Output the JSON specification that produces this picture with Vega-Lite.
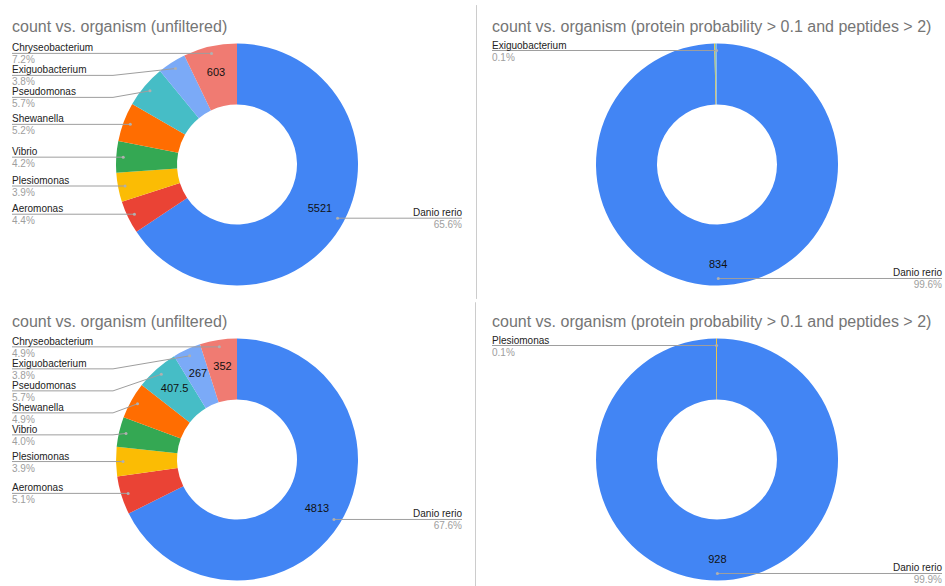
{
  "$schema": "https://vega.github.io/schema/vega-lite/v6.json",
  "padding": {"left": 0, "top": 4.5, "right": 0, "bottom": 0},
  "background": "white",
  "config": {
    "view": {"stroke": null},
    "font": "Liberation Sans",
    "title": {"font": "Liberation Sans", "fontSize": 16, "fontWeight": "normal", "color": "#757575", "anchor": "start", "frame": "group", "offset": 4.5, "baseline": "alphabetic"}
  },
  "data": {"values": [
    {"chart": "A", "organism": "Danio rerio", "count": 5521},
    {"chart": "A", "organism": "Aeromonas", "count": 372},
    {"chart": "A", "organism": "Plesiomonas", "count": 328},
    {"chart": "A", "organism": "Vibrio", "count": 353},
    {"chart": "A", "organism": "Shewanella", "count": 438},
    {"chart": "A", "organism": "Pseudomonas", "count": 480},
    {"chart": "A", "organism": "Exiguobacterium", "count": 320},
    {"chart": "A", "organism": "Chryseobacterium", "count": 603},
    {"chart": "B", "organism": "Danio rerio", "count": 834},
    {"chart": "B", "organism": "Plesiomonas", "count": 1},
    {"chart": "B", "organism": "Pseudomonas", "count": 1},
    {"chart": "B", "organism": "Exiguobacterium", "count": 1},
    {"chart": "C", "organism": "Danio rerio", "count": 4813},
    {"chart": "C", "organism": "Aeromonas", "count": 365},
    {"chart": "C", "organism": "Plesiomonas", "count": 278},
    {"chart": "C", "organism": "Vibrio", "count": 285},
    {"chart": "C", "organism": "Shewanella", "count": 349},
    {"chart": "C", "organism": "Pseudomonas", "count": 407.5},
    {"chart": "C", "organism": "Exiguobacterium", "count": 267},
    {"chart": "C", "organism": "Chryseobacterium", "count": 352},
    {"chart": "D", "organism": "Danio rerio", "count": 928},
    {"chart": "D", "organism": "Plesiomonas", "count": 1}
  ]},
  "columns": 2,
  "bounds": "flush",
  "spacing": {"row": 45, "column": 15},
  "concat": [
    {
      "width": 474, "height": 250,
      "title": {"text": "count vs. organism (unfiltered)", "dx": 12},
      "transform": [
        {"filter": "datum.chart == 'A'"},
        {"window": [{"op": "row_number", "as": "idx"}]},
        {"joinaggregate": [{"op": "sum", "field": "count", "as": "total"}]},
        {"window": [{"op": "sum", "field": "count", "as": "cum"}], "sort": [{"field": "idx"}], "frame": [null, 0]},
        {"calculate": "2*PI*(datum.cum - datum.count/2)/datum.total", "as": "mid"},
        {"calculate": "datum.count/datum.total", "as": "pct"}
      ],
      "layer": [
        {"mark": {"type": "arc", "radius": 121, "innerRadius": 60},
         "encoding": {
           "theta": {"field": "count", "type": "quantitative", "stack": true},
           "order": {"field": "idx", "type": "quantitative"},
           "color": {"field": "organism", "type": "nominal", "legend": null,
             "scale": {"domain": ["Danio rerio", "Aeromonas", "Plesiomonas", "Vibrio", "Shewanella", "Pseudomonas", "Exiguobacterium", "Chryseobacterium"],
                       "range": ["#4285F4", "#EA4335", "#FBBC04", "#34A853", "#FF6D01", "#46BDC6", "#7BAAF7", "#F07B72"]}}
         }},
        {"mark": {"type": "text", "radius": 94, "fontSize": 11, "color": "#111111"},
         "encoding": {
           "theta": {"field": "count", "type": "quantitative", "stack": true},
           "order": {"field": "idx", "type": "quantitative"},
           "detail": {"field": "organism", "type": "nominal"},
           "text": {"condition": {"test": "indexof(['Danio rerio','Chryseobacterium'], datum.organism) >= 0", "field": "count", "type": "nominal"}, "value": ""}
         }},
        {"transform": [
           {"calculate": "datum.mid > PI", "as": "left"},
           {"calculate": "114*sin(datum.mid)", "as": "px"},
           {"calculate": "114*cos(datum.mid)", "as": "py"},
           {"calculate": "datum.left ? 2*PI - datum.mid : datum.mid", "as": "ord"},
           {"window": [{"op": "row_number", "as": "k"}], "groupby": ["left"], "sort": [{"field": "ord"}]},
           {"calculate": "datum.py + 22*datum.k", "as": "e"},
           {"window": [{"op": "min", "field": "e", "as": "m"}], "groupby": ["left"], "sort": [{"field": "ord"}], "frame": [null, 0]},
           {"calculate": "datum.m - 22*datum.k", "as": "ly"},
           {"calculate": "datum.left ? -225 : 225", "as": "lx"},
           {"calculate": "datum.left ? -124 : 124", "as": "bx"}
         ],
         "layer": [
           {"mark": {"type": "rule", "color": "#9e9e9e", "strokeWidth": 1},
            "encoding": {
              "x": {"field": "px", "type": "quantitative", "scale": {"domain": [-237, 237], "nice": false, "zero": false}, "axis": null},
              "y": {"field": "py", "type": "quantitative", "scale": {"domain": [-125, 125], "nice": false, "zero": false}, "axis": null},
              "x2": {"field": "bx"}, "y2": {"field": "ly"}}},
           {"mark": {"type": "rule", "color": "#9e9e9e", "strokeWidth": 1},
            "encoding": {
              "x": {"field": "bx", "type": "quantitative", "scale": {"domain": [-237, 237], "nice": false, "zero": false}, "axis": null},
              "x2": {"field": "lx"},
              "y": {"field": "ly", "type": "quantitative", "scale": {"domain": [-125, 125], "nice": false, "zero": false}, "axis": null}}},
           {"mark": {"type": "point", "filled": true, "size": 9, "color": "#b0b0b0", "opacity": 1},
            "encoding": {
              "x": {"field": "px", "type": "quantitative", "scale": {"domain": [-237, 237], "nice": false, "zero": false}, "axis": null},
              "y": {"field": "py", "type": "quantitative", "scale": {"domain": [-125, 125], "nice": false, "zero": false}, "axis": null}}},
           {"transform": [{"filter": "datum.left"}],
            "mark": {"type": "text", "align": "left", "baseline": "alphabetic", "dy": -2, "fontSize": 10, "color": "#222222"},
            "encoding": {
              "x": {"field": "lx", "type": "quantitative", "scale": {"domain": [-237, 237], "nice": false, "zero": false}, "axis": null},
              "y": {"field": "ly", "type": "quantitative", "scale": {"domain": [-125, 125], "nice": false, "zero": false}, "axis": null},
              "text": {"field": "organism", "type": "nominal"}}},
           {"transform": [{"filter": "datum.left"}],
            "mark": {"type": "text", "align": "left", "baseline": "alphabetic", "dy": 10, "fontSize": 10, "color": "#9e9e9e"},
            "encoding": {
              "x": {"field": "lx", "type": "quantitative", "scale": {"domain": [-237, 237], "nice": false, "zero": false}, "axis": null},
              "y": {"field": "ly", "type": "quantitative", "scale": {"domain": [-125, 125], "nice": false, "zero": false}, "axis": null},
              "text": {"field": "pct", "type": "quantitative", "format": ".1%"}}},
           {"transform": [{"filter": "!datum.left"}],
            "mark": {"type": "text", "align": "right", "baseline": "alphabetic", "dy": -2, "fontSize": 10, "color": "#222222"},
            "encoding": {
              "x": {"field": "lx", "type": "quantitative", "scale": {"domain": [-237, 237], "nice": false, "zero": false}, "axis": null},
              "y": {"field": "ly", "type": "quantitative", "scale": {"domain": [-125, 125], "nice": false, "zero": false}, "axis": null},
              "text": {"field": "organism", "type": "nominal"}}},
           {"transform": [{"filter": "!datum.left"}],
            "mark": {"type": "text", "align": "right", "baseline": "alphabetic", "dy": 10, "fontSize": 10, "color": "#9e9e9e"},
            "encoding": {
              "x": {"field": "lx", "type": "quantitative", "scale": {"domain": [-237, 237], "nice": false, "zero": false}, "axis": null},
              "y": {"field": "ly", "type": "quantitative", "scale": {"domain": [-125, 125], "nice": false, "zero": false}, "axis": null},
              "text": {"field": "pct", "type": "quantitative", "format": ".1%"}}}
         ]}
      ]
    },
    {
      "width": 456, "height": 250,
      "title": {"text": "count vs. organism (protein probability > 0.1 and peptides > 2)", "dx": 3, "offset": -30},
      "transform": [
        {"filter": "datum.chart == 'B'"},
        {"window": [{"op": "row_number", "as": "idx"}]},
        {"joinaggregate": [{"op": "sum", "field": "count", "as": "total"}]},
        {"window": [{"op": "sum", "field": "count", "as": "cum"}], "sort": [{"field": "idx"}], "frame": [null, 0]},
        {"calculate": "2*PI*(datum.cum - datum.count/2)/datum.total", "as": "mid"},
        {"calculate": "datum.count/datum.total", "as": "pct"}
      ],
      "layer": [
        {"mark": {"type": "rule", "color": "#cccccc", "strokeWidth": 1},
         "encoding": {
           "x": {"datum": -240.5, "type": "quantitative", "scale": {"domain": [-228, 228], "nice": false, "zero": false}, "axis": null},
           "y": {"datum": 159, "type": "quantitative", "scale": {"domain": [-125, 125], "nice": false, "zero": false}, "axis": null},
           "y2": {"datum": -134}}},
        {"mark": {"type": "arc", "radius": 121, "innerRadius": 60},
         "encoding": {
           "theta": {"field": "count", "type": "quantitative", "stack": true},
           "order": {"field": "idx", "type": "quantitative"},
           "color": {"field": "organism", "type": "nominal", "legend": null,
             "scale": {"domain": ["Danio rerio", "Aeromonas", "Plesiomonas", "Vibrio", "Shewanella", "Pseudomonas", "Exiguobacterium", "Chryseobacterium"],
                       "range": ["#4285F4", "#EA4335", "#FBBC04", "#34A853", "#FF6D01", "#46BDC6", "#7BAAF7", "#F07B72"]}}
         }},
        {"mark": {"type": "text", "radius": 101, "fontSize": 11, "color": "#111111"},
         "encoding": {
           "theta": {"field": "count", "type": "quantitative", "stack": true},
           "order": {"field": "idx", "type": "quantitative"},
           "detail": {"field": "organism", "type": "nominal"},
           "text": {"condition": {"test": "datum.organism == 'Danio rerio'", "field": "count", "type": "nominal"}, "value": ""}
         }},
        {"transform": [
           {"filter": "indexof(['Danio rerio','Exiguobacterium'], datum.organism) >= 0"},
           {"calculate": "datum.mid > PI", "as": "left"},
           {"calculate": "114*sin(datum.mid)", "as": "px"},
           {"calculate": "114*cos(datum.mid)", "as": "py"},
           {"calculate": "datum.left ? 2*PI - datum.mid : datum.mid", "as": "ord"},
           {"window": [{"op": "row_number", "as": "k"}], "groupby": ["left"], "sort": [{"field": "ord"}]},
           {"calculate": "datum.py + 22*datum.k", "as": "e"},
           {"window": [{"op": "min", "field": "e", "as": "m"}], "groupby": ["left"], "sort": [{"field": "ord"}], "frame": [null, 0]},
           {"calculate": "datum.m - 22*datum.k", "as": "ly"},
           {"calculate": "datum.left ? -225 : 225", "as": "lx"},
           {"calculate": "datum.left ? -124 : 124", "as": "bx"}
         ],
         "layer": [
           {"mark": {"type": "rule", "color": "#9e9e9e", "strokeWidth": 1},
            "encoding": {
              "x": {"field": "px", "type": "quantitative", "scale": {"domain": [-228, 228], "nice": false, "zero": false}, "axis": null},
              "y": {"field": "py", "type": "quantitative", "scale": {"domain": [-125, 125], "nice": false, "zero": false}, "axis": null},
              "x2": {"field": "bx"}, "y2": {"field": "ly"}}},
           {"mark": {"type": "rule", "color": "#9e9e9e", "strokeWidth": 1},
            "encoding": {
              "x": {"field": "bx", "type": "quantitative", "scale": {"domain": [-228, 228], "nice": false, "zero": false}, "axis": null},
              "x2": {"field": "lx"},
              "y": {"field": "ly", "type": "quantitative", "scale": {"domain": [-125, 125], "nice": false, "zero": false}, "axis": null}}},
           {"mark": {"type": "point", "filled": true, "size": 9, "color": "#b0b0b0", "opacity": 1},
            "encoding": {
              "x": {"field": "px", "type": "quantitative", "scale": {"domain": [-228, 228], "nice": false, "zero": false}, "axis": null},
              "y": {"field": "py", "type": "quantitative", "scale": {"domain": [-125, 125], "nice": false, "zero": false}, "axis": null}}},
           {"transform": [{"filter": "datum.left"}],
            "mark": {"type": "text", "align": "left", "baseline": "alphabetic", "dy": -2, "fontSize": 10, "color": "#222222"},
            "encoding": {
              "x": {"field": "lx", "type": "quantitative", "scale": {"domain": [-228, 228], "nice": false, "zero": false}, "axis": null},
              "y": {"field": "ly", "type": "quantitative", "scale": {"domain": [-125, 125], "nice": false, "zero": false}, "axis": null},
              "text": {"field": "organism", "type": "nominal"}}},
           {"transform": [{"filter": "datum.left"}],
            "mark": {"type": "text", "align": "left", "baseline": "alphabetic", "dy": 10, "fontSize": 10, "color": "#9e9e9e"},
            "encoding": {
              "x": {"field": "lx", "type": "quantitative", "scale": {"domain": [-228, 228], "nice": false, "zero": false}, "axis": null},
              "y": {"field": "ly", "type": "quantitative", "scale": {"domain": [-125, 125], "nice": false, "zero": false}, "axis": null},
              "text": {"field": "pct", "type": "quantitative", "format": ".1%"}}},
           {"transform": [{"filter": "!datum.left"}],
            "mark": {"type": "text", "align": "right", "baseline": "alphabetic", "dy": -2, "fontSize": 10, "color": "#222222"},
            "encoding": {
              "x": {"field": "lx", "type": "quantitative", "scale": {"domain": [-228, 228], "nice": false, "zero": false}, "axis": null},
              "y": {"field": "ly", "type": "quantitative", "scale": {"domain": [-125, 125], "nice": false, "zero": false}, "axis": null},
              "text": {"field": "organism", "type": "nominal"}}},
           {"transform": [{"filter": "!datum.left"}],
            "mark": {"type": "text", "align": "right", "baseline": "alphabetic", "dy": 10, "fontSize": 10, "color": "#9e9e9e"},
            "encoding": {
              "x": {"field": "lx", "type": "quantitative", "scale": {"domain": [-228, 228], "nice": false, "zero": false}, "axis": null},
              "y": {"field": "ly", "type": "quantitative", "scale": {"domain": [-125, 125], "nice": false, "zero": false}, "axis": null},
              "text": {"field": "pct", "type": "quantitative", "format": ".1%"}}}
         ]}
      ]
    },
    {
      "width": 474, "height": 250,
      "title": {"text": "count vs. organism (unfiltered)", "dx": 12},
      "transform": [
        {"filter": "datum.chart == 'C'"},
        {"window": [{"op": "row_number", "as": "idx"}]},
        {"joinaggregate": [{"op": "sum", "field": "count", "as": "total"}]},
        {"window": [{"op": "sum", "field": "count", "as": "cum"}], "sort": [{"field": "idx"}], "frame": [null, 0]},
        {"calculate": "2*PI*(datum.cum - datum.count/2)/datum.total", "as": "mid"},
        {"calculate": "datum.count/datum.total", "as": "pct"}
      ],
      "layer": [
        {"mark": {"type": "arc", "radius": 121, "innerRadius": 60},
         "encoding": {
           "theta": {"field": "count", "type": "quantitative", "stack": true},
           "order": {"field": "idx", "type": "quantitative"},
           "color": {"field": "organism", "type": "nominal", "legend": null,
             "scale": {"domain": ["Danio rerio", "Aeromonas", "Plesiomonas", "Vibrio", "Shewanella", "Pseudomonas", "Exiguobacterium", "Chryseobacterium"],
                       "range": ["#4285F4", "#EA4335", "#FBBC04", "#34A853", "#FF6D01", "#46BDC6", "#7BAAF7", "#F07B72"]}}
         }},
        {"mark": {"type": "text", "radius": 94, "fontSize": 11, "color": "#111111"},
         "encoding": {
           "theta": {"field": "count", "type": "quantitative", "stack": true},
           "order": {"field": "idx", "type": "quantitative"},
           "detail": {"field": "organism", "type": "nominal"},
           "text": {"condition": {"test": "indexof(['Danio rerio','Chryseobacterium','Exiguobacterium','Pseudomonas'], datum.organism) >= 0", "field": "count", "type": "nominal"}, "value": ""}
         }},
        {"transform": [
           {"calculate": "datum.mid > PI", "as": "left"},
           {"calculate": "114*sin(datum.mid)", "as": "px"},
           {"calculate": "114*cos(datum.mid)", "as": "py"},
           {"calculate": "datum.left ? 2*PI - datum.mid : datum.mid", "as": "ord"},
           {"window": [{"op": "row_number", "as": "k"}], "groupby": ["left"], "sort": [{"field": "ord"}]},
           {"calculate": "datum.py + 22*datum.k", "as": "e"},
           {"window": [{"op": "min", "field": "e", "as": "m"}], "groupby": ["left"], "sort": [{"field": "ord"}], "frame": [null, 0]},
           {"calculate": "datum.m - 22*datum.k", "as": "ly"},
           {"calculate": "datum.left ? -225 : 225", "as": "lx"},
           {"calculate": "datum.left ? -124 : 124", "as": "bx"}
         ],
         "layer": [
           {"mark": {"type": "rule", "color": "#9e9e9e", "strokeWidth": 1},
            "encoding": {
              "x": {"field": "px", "type": "quantitative", "scale": {"domain": [-237, 237], "nice": false, "zero": false}, "axis": null},
              "y": {"field": "py", "type": "quantitative", "scale": {"domain": [-125, 125], "nice": false, "zero": false}, "axis": null},
              "x2": {"field": "bx"}, "y2": {"field": "ly"}}},
           {"mark": {"type": "rule", "color": "#9e9e9e", "strokeWidth": 1},
            "encoding": {
              "x": {"field": "bx", "type": "quantitative", "scale": {"domain": [-237, 237], "nice": false, "zero": false}, "axis": null},
              "x2": {"field": "lx"},
              "y": {"field": "ly", "type": "quantitative", "scale": {"domain": [-125, 125], "nice": false, "zero": false}, "axis": null}}},
           {"mark": {"type": "point", "filled": true, "size": 9, "color": "#b0b0b0", "opacity": 1},
            "encoding": {
              "x": {"field": "px", "type": "quantitative", "scale": {"domain": [-237, 237], "nice": false, "zero": false}, "axis": null},
              "y": {"field": "py", "type": "quantitative", "scale": {"domain": [-125, 125], "nice": false, "zero": false}, "axis": null}}},
           {"transform": [{"filter": "datum.left"}],
            "mark": {"type": "text", "align": "left", "baseline": "alphabetic", "dy": -2, "fontSize": 10, "color": "#222222"},
            "encoding": {
              "x": {"field": "lx", "type": "quantitative", "scale": {"domain": [-237, 237], "nice": false, "zero": false}, "axis": null},
              "y": {"field": "ly", "type": "quantitative", "scale": {"domain": [-125, 125], "nice": false, "zero": false}, "axis": null},
              "text": {"field": "organism", "type": "nominal"}}},
           {"transform": [{"filter": "datum.left"}],
            "mark": {"type": "text", "align": "left", "baseline": "alphabetic", "dy": 10, "fontSize": 10, "color": "#9e9e9e"},
            "encoding": {
              "x": {"field": "lx", "type": "quantitative", "scale": {"domain": [-237, 237], "nice": false, "zero": false}, "axis": null},
              "y": {"field": "ly", "type": "quantitative", "scale": {"domain": [-125, 125], "nice": false, "zero": false}, "axis": null},
              "text": {"field": "pct", "type": "quantitative", "format": ".1%"}}},
           {"transform": [{"filter": "!datum.left"}],
            "mark": {"type": "text", "align": "right", "baseline": "alphabetic", "dy": -2, "fontSize": 10, "color": "#222222"},
            "encoding": {
              "x": {"field": "lx", "type": "quantitative", "scale": {"domain": [-237, 237], "nice": false, "zero": false}, "axis": null},
              "y": {"field": "ly", "type": "quantitative", "scale": {"domain": [-125, 125], "nice": false, "zero": false}, "axis": null},
              "text": {"field": "organism", "type": "nominal"}}},
           {"transform": [{"filter": "!datum.left"}],
            "mark": {"type": "text", "align": "right", "baseline": "alphabetic", "dy": 10, "fontSize": 10, "color": "#9e9e9e"},
            "encoding": {
              "x": {"field": "lx", "type": "quantitative", "scale": {"domain": [-237, 237], "nice": false, "zero": false}, "axis": null},
              "y": {"field": "ly", "type": "quantitative", "scale": {"domain": [-125, 125], "nice": false, "zero": false}, "axis": null},
              "text": {"field": "pct", "type": "quantitative", "format": ".1%"}}}
         ]}
      ]
    },
    {
      "width": 456, "height": 250,
      "title": {"text": "count vs. organism (protein probability > 0.1 and peptides > 2)", "dx": 3, "offset": -28},
      "transform": [
        {"filter": "datum.chart == 'D'"},
        {"window": [{"op": "row_number", "as": "idx"}]},
        {"joinaggregate": [{"op": "sum", "field": "count", "as": "total"}]},
        {"window": [{"op": "sum", "field": "count", "as": "cum"}], "sort": [{"field": "idx"}], "frame": [null, 0]},
        {"calculate": "2*PI*(datum.cum - datum.count/2)/datum.total", "as": "mid"},
        {"calculate": "datum.count/datum.total", "as": "pct"}
      ],
      "layer": [
        {"mark": {"type": "rule", "color": "#cccccc", "strokeWidth": 1},
         "encoding": {
           "x": {"datum": -241.5, "type": "quantitative", "scale": {"domain": [-228, 228], "nice": false, "zero": false}, "axis": null},
           "y": {"datum": 157, "type": "quantitative", "scale": {"domain": [-125, 125], "nice": false, "zero": false}, "axis": null},
           "y2": {"datum": -127}}},
        {"mark": {"type": "arc", "radius": 121, "innerRadius": 60},
         "encoding": {
           "theta": {"field": "count", "type": "quantitative", "stack": true},
           "order": {"field": "idx", "type": "quantitative"},
           "color": {"field": "organism", "type": "nominal", "legend": null,
             "scale": {"domain": ["Danio rerio", "Aeromonas", "Plesiomonas", "Vibrio", "Shewanella", "Pseudomonas", "Exiguobacterium", "Chryseobacterium"],
                       "range": ["#4285F4", "#EA4335", "#FBBC04", "#34A853", "#FF6D01", "#46BDC6", "#7BAAF7", "#F07B72"]}}
         }},
        {"mark": {"type": "text", "radius": 101, "fontSize": 11, "color": "#111111"},
         "encoding": {
           "theta": {"field": "count", "type": "quantitative", "stack": true},
           "order": {"field": "idx", "type": "quantitative"},
           "detail": {"field": "organism", "type": "nominal"},
           "text": {"condition": {"test": "datum.organism == 'Danio rerio'", "field": "count", "type": "nominal"}, "value": ""}
         }},
        {"transform": [
           {"calculate": "datum.mid > PI", "as": "left"},
           {"calculate": "114*sin(datum.mid)", "as": "px"},
           {"calculate": "114*cos(datum.mid)", "as": "py"},
           {"calculate": "datum.left ? 2*PI - datum.mid : datum.mid", "as": "ord"},
           {"window": [{"op": "row_number", "as": "k"}], "groupby": ["left"], "sort": [{"field": "ord"}]},
           {"calculate": "datum.py + 22*datum.k", "as": "e"},
           {"window": [{"op": "min", "field": "e", "as": "m"}], "groupby": ["left"], "sort": [{"field": "ord"}], "frame": [null, 0]},
           {"calculate": "datum.m - 22*datum.k", "as": "ly"},
           {"calculate": "datum.left ? -225 : 225", "as": "lx"},
           {"calculate": "datum.left ? -124 : 124", "as": "bx"}
         ],
         "layer": [
           {"mark": {"type": "rule", "color": "#9e9e9e", "strokeWidth": 1},
            "encoding": {
              "x": {"field": "px", "type": "quantitative", "scale": {"domain": [-228, 228], "nice": false, "zero": false}, "axis": null},
              "y": {"field": "py", "type": "quantitative", "scale": {"domain": [-125, 125], "nice": false, "zero": false}, "axis": null},
              "x2": {"field": "bx"}, "y2": {"field": "ly"}}},
           {"mark": {"type": "rule", "color": "#9e9e9e", "strokeWidth": 1},
            "encoding": {
              "x": {"field": "bx", "type": "quantitative", "scale": {"domain": [-228, 228], "nice": false, "zero": false}, "axis": null},
              "x2": {"field": "lx"},
              "y": {"field": "ly", "type": "quantitative", "scale": {"domain": [-125, 125], "nice": false, "zero": false}, "axis": null}}},
           {"mark": {"type": "point", "filled": true, "size": 9, "color": "#b0b0b0", "opacity": 1},
            "encoding": {
              "x": {"field": "px", "type": "quantitative", "scale": {"domain": [-228, 228], "nice": false, "zero": false}, "axis": null},
              "y": {"field": "py", "type": "quantitative", "scale": {"domain": [-125, 125], "nice": false, "zero": false}, "axis": null}}},
           {"transform": [{"filter": "datum.left"}],
            "mark": {"type": "text", "align": "left", "baseline": "alphabetic", "dy": -2, "fontSize": 10, "color": "#222222"},
            "encoding": {
              "x": {"field": "lx", "type": "quantitative", "scale": {"domain": [-228, 228], "nice": false, "zero": false}, "axis": null},
              "y": {"field": "ly", "type": "quantitative", "scale": {"domain": [-125, 125], "nice": false, "zero": false}, "axis": null},
              "text": {"field": "organism", "type": "nominal"}}},
           {"transform": [{"filter": "datum.left"}],
            "mark": {"type": "text", "align": "left", "baseline": "alphabetic", "dy": 10, "fontSize": 10, "color": "#9e9e9e"},
            "encoding": {
              "x": {"field": "lx", "type": "quantitative", "scale": {"domain": [-228, 228], "nice": false, "zero": false}, "axis": null},
              "y": {"field": "ly", "type": "quantitative", "scale": {"domain": [-125, 125], "nice": false, "zero": false}, "axis": null},
              "text": {"field": "pct", "type": "quantitative", "format": ".1%"}}},
           {"transform": [{"filter": "!datum.left"}],
            "mark": {"type": "text", "align": "right", "baseline": "alphabetic", "dy": -2, "fontSize": 10, "color": "#222222"},
            "encoding": {
              "x": {"field": "lx", "type": "quantitative", "scale": {"domain": [-228, 228], "nice": false, "zero": false}, "axis": null},
              "y": {"field": "ly", "type": "quantitative", "scale": {"domain": [-125, 125], "nice": false, "zero": false}, "axis": null},
              "text": {"field": "organism", "type": "nominal"}}},
           {"transform": [{"filter": "!datum.left"}],
            "mark": {"type": "text", "align": "right", "baseline": "alphabetic", "dy": 10, "fontSize": 10, "color": "#9e9e9e"},
            "encoding": {
              "x": {"field": "lx", "type": "quantitative", "scale": {"domain": [-228, 228], "nice": false, "zero": false}, "axis": null},
              "y": {"field": "ly", "type": "quantitative", "scale": {"domain": [-125, 125], "nice": false, "zero": false}, "axis": null},
              "text": {"field": "pct", "type": "quantitative", "format": ".1%"}}}
         ]}
      ]
    }
  ]
}
